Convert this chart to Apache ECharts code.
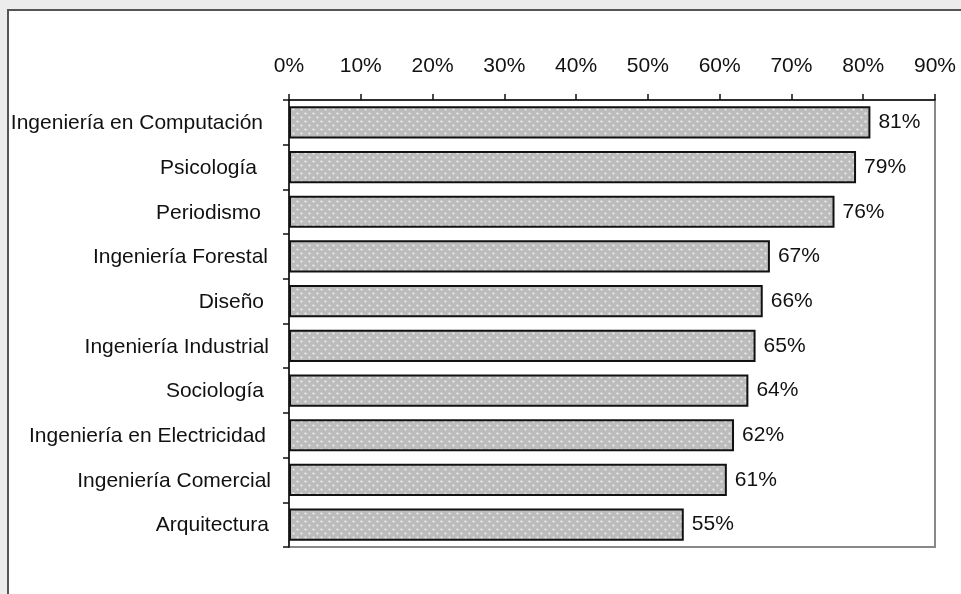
<!DOCTYPE html>
<html><head><meta charset="utf-8">
<script src="https://cdn.jsdelivr.net/npm/echarts@6/dist/echarts.min.js"></script>
<style>html,body{margin:0;padding:0;background:#ececec;}#c{width:961px;height:594px;}</style>
</head><body><div id="c"></div>
<script>
const categories = ["Ingeniería en Computación","Psicología","Periodismo","Ingeniería Forestal","Diseño","Ingeniería Industrial","Sociología","Ingeniería en Electricidad","Ingeniería Comercial","Arquitectura"];
const values = [81,79,76,67,66,65,64,62,61,55];
const tickValues = [0,10,20,30,40,50,60,70,80,90];

// per-label right offsets (styling only) to mimic the original's uneven alignment
const labelPad = [8,14,10,3,7,2,7,5,0,2];

const pc = document.createElement('canvas');
pc.width = 8; pc.height = 8;
const g = pc.getContext('2d');
g.fillStyle = '#bcbcbc'; g.fillRect(0,0,8,8);
g.fillStyle = '#eeeeee';
[[1.5,1.5],[5.5,5.5]].forEach(p=>{g.beginPath();g.arc(p[0],p[1],1.1,0,Math.PI*2);g.fill();});

const font = "'Liberation Sans', Arial, sans-serif";
const rich = {};
labelPad.forEach((p,i)=>{ rich['r'+i] = {color:'#111', fontSize:21, fontFamily:font, padding:[2,p,0,0]}; });

const chart = echarts.init(document.getElementById('c'));
chart.setOption({
  backgroundColor: 'transparent',
  animation: false,
  graphic: [{type:'rect', z:-10, shape:{x:8,y:10,width:1000,height:1000}, style:{fill:'#fff', stroke:'#555', lineWidth:2}}],
  grid: {left:289, top:100, right:26, bottom:47, show:true, borderColor:'#888', borderWidth:2, backgroundColor:'#fff'},
  xAxis: {
    type:'value', position:'top', min:0, max:90, interval:10,
    axisLine:{show:true, lineStyle:{color:'#111', width:1.5}},
    axisTick:{show:true, length:6, lineStyle:{color:'#111', width:1.5}},
    splitLine:{show:false},
    axisLabel:{formatter: v => tickValues.includes(v) ? v + '%' : '', color:'#111', fontSize:21, fontFamily:font, margin:23}
  },
  yAxis: {
    type:'category', inverse:true, data:categories,
    axisLine:{show:true, lineStyle:{color:'#111', width:1.5}},
    axisTick:{show:true, length:6, lineStyle:{color:'#111', width:1.5}},
    axisLabel:{margin:18, formatter:(v,i)=>'{r'+i+'|'+v+'}', rich:rich}
  },
  series: [{
    type:'bar', data:values, barWidth:'72%',
    itemStyle:{color:{image:pc, repeat:'repeat'}, borderColor:'#111', borderWidth:2},
    label:{show:true, position:'right', distance:8, formatter:'{c}%', color:'#111', fontSize:21, fontFamily:font}
  }]
});
</script></body></html>
